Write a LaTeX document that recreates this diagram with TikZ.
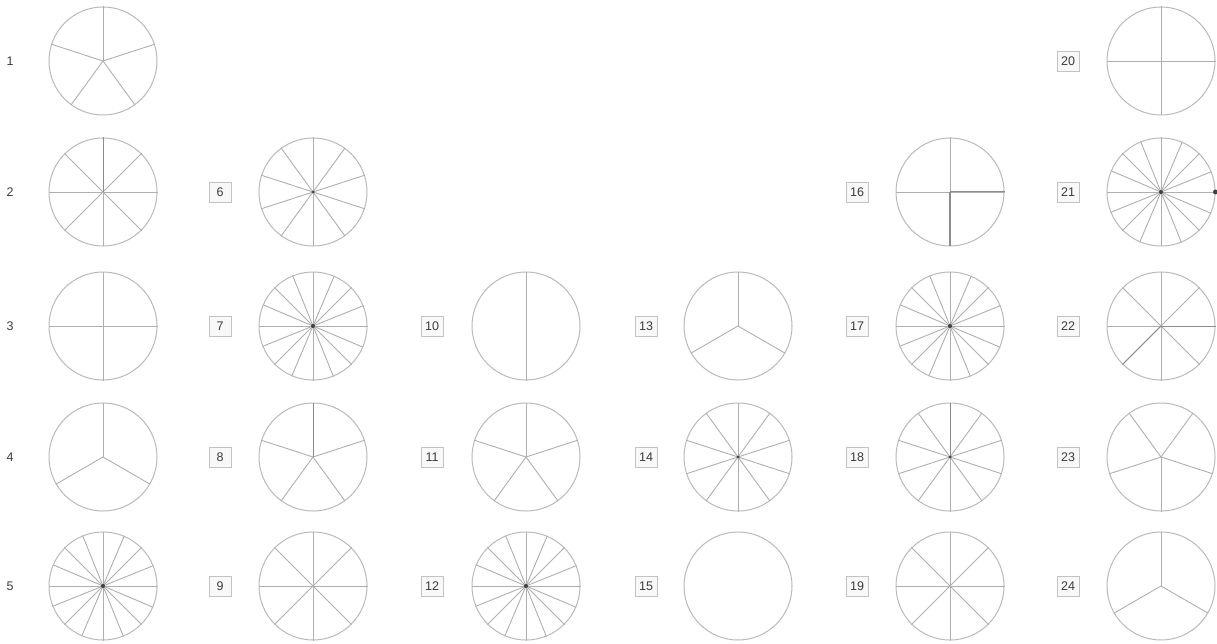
\documentclass[tikz,border=0pt]{standalone}
\usepackage{fontspec}
\setmainfont{Liberation Sans}
\definecolor{ringgray}{RGB}{185,185,185}
\definecolor{spokegray}{RGB}{175,175,175}
\definecolor{darkspoke}{RGB}{140,140,140}
\definecolor{labgray}{RGB}{60,60,60}
\definecolor{boxgray}{RGB}{195,195,195}
\definecolor{boxfill}{RGB}{248,248,248}
\newcommand\wheel[5]{%
  \node[ring] (w#1) at (#2,#3) {};
  \ifnum#4>0
    \foreach \k in {1,...,#4} {\draw[spoke] (w#1.center) -- (w#1.{#5+360*(\k-1)/#4});}
  \fi}
\begin{document}
\begin{tikzpicture}[x=1pt,y=-1pt,
  ring/.style={circle, draw=ringgray, line width=1pt, minimum size=108pt, inner sep=0pt},
  spoke/.style={draw=spokegray, line width=0.9pt},
  darkline/.style={draw=darkspoke, line width=1pt},
  hub/.style={circle, fill=black!75, inner sep=0pt, minimum size=4pt},
  plainlab/.style={font=\fontsize{12.5}{12.5}\selectfont, text=labgray},
  boxlab/.style={plainlab, draw=boxgray, fill=boxfill, line width=0.8pt, minimum width=22pt, minimum height=20pt, inner sep=1pt}]
\useasboundingbox (0,0) rectangle (1217,644);
% column 1
\node[plainlab] (l1) at (10,61) {1};
\node[plainlab] (l2) at (10,192) {2};
\node[plainlab] (l3) at (10,326) {3};
\node[plainlab] (l4) at (10,457) {4};
\node[plainlab] (l5) at (10,586) {5};
\wheel{1}{103}{61}{5}{90}
\wheel{2}{103}{192}{8}{90}
\wheel{3}{103}{326}{4}{90}
\wheel{4}{103}{457}{3}{90}
\wheel{5}{103}{586}{16}{90}
\draw[darkline] (w2.center) -- (w2.90);
\node[hub] (h5) at (w5.center) {};
% column 2
\node[boxlab] (l6) at (220,192) {6};
\node[boxlab] (l7) at (220,326) {7};
\node[boxlab] (l8) at (220,457) {8};
\node[boxlab] (l9) at (220,586) {9};
\wheel{6}{313}{192}{10}{90}
\wheel{7}{313}{326}{16}{90}
\wheel{8}{313}{457}{5}{90}
\wheel{9}{313}{586}{8}{90}
\draw[darkline] (w8.center) -- (w8.90);
\node[hub, minimum size=3pt] (h6) at (w6.center) {};
\node[hub] (h7) at (w7.center) {};
% column 3
\node[boxlab] (l10) at (432,326) {10};
\node[boxlab] (l11) at (432,457) {11};
\node[boxlab] (l12) at (432,586) {12};
\wheel{10}{526}{326}{2}{90}
\wheel{11}{526}{457}{5}{90}
\wheel{12}{526}{586}{16}{90}
\node[hub] (h12) at (w12.center) {};
% column 4
\node[boxlab] (l13) at (646,326) {13};
\node[boxlab] (l14) at (646,457) {14};
\node[boxlab] (l15) at (646,586) {15};
\wheel{13}{738}{326}{3}{90}
\wheel{14}{738}{457}{10}{90}
\wheel{15}{738}{586}{0}{90}
\node[hub, minimum size=3pt] (h14) at (w14.center) {};
% column 5
\node[boxlab] (l16) at (857,192) {16};
\node[boxlab] (l17) at (857,326) {17};
\node[boxlab] (l18) at (857,457) {18};
\node[boxlab] (l19) at (857,586) {19};
\wheel{16}{950}{192}{4}{90}
\wheel{17}{950}{326}{16}{90}
\wheel{18}{950}{457}{10}{90}
\wheel{19}{950}{586}{8}{90}
\draw[darkline] (w16.center) -- (w16.0);
\draw[darkline, line width=1.3pt] (w16.center) -- (w16.270);
\draw[darkline] (w18.center) -- (w18.90);
\node[hub] (h17) at (w17.center) {};
\node[hub, minimum size=3pt] (h18) at (w18.center) {};
% column 6
\node[boxlab] (l20) at (1068,61) {20};
\node[boxlab] (l21) at (1068,192) {21};
\node[boxlab] (l22) at (1068,326) {22};
\node[boxlab] (l23) at (1068,457) {23};
\node[boxlab] (l24) at (1068,586) {24};
\wheel{20}{1161}{61}{4}{90}
\wheel{21}{1161}{192}{16}{90}
\wheel{22}{1161}{326}{8}{90}
\wheel{23}{1161}{457}{5}{270}
\wheel{24}{1161}{586}{3}{90}
\node[hub] (h21) at (w21.center) {};
\node[hub, minimum size=5pt] (e21) at (w21.0) {};
\draw[darkline] (w22.center) -- (w22.0);
\draw[darkline] (w22.center) -- (w22.225);
\end{tikzpicture}
\end{document}
